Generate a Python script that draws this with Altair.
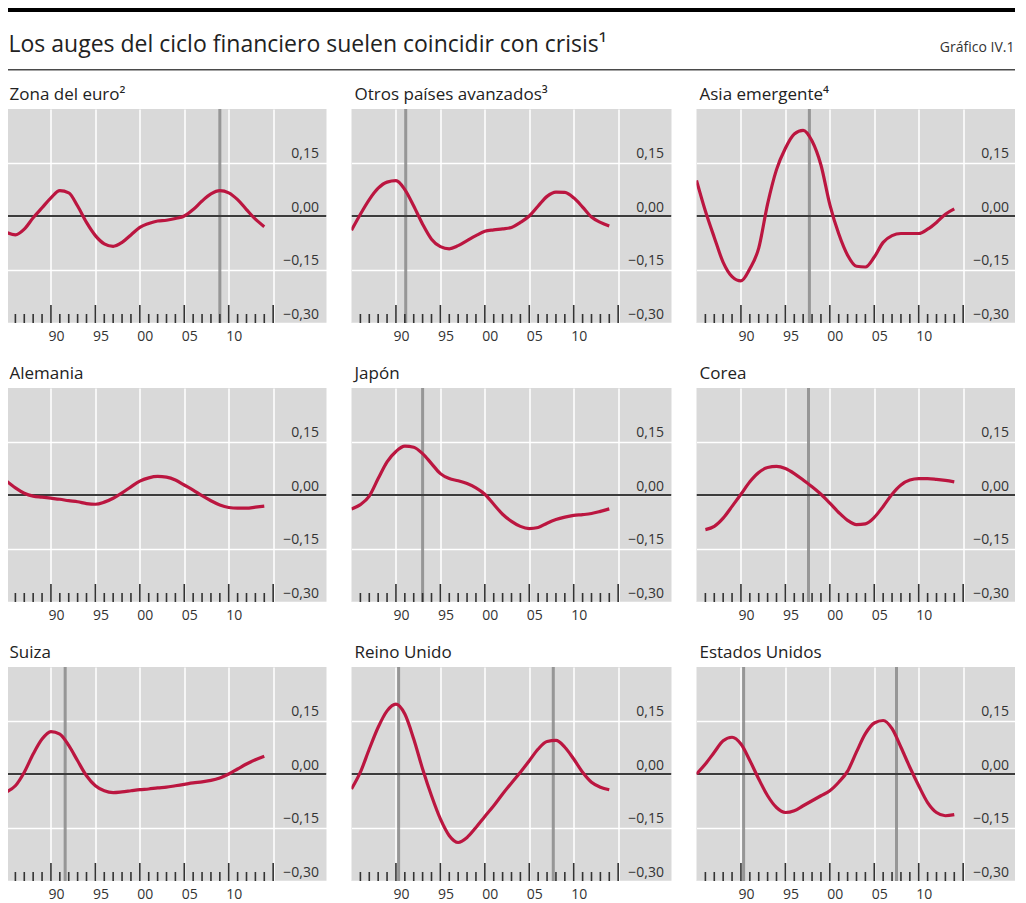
import altair as alt
import pandas as pd

FONT = "Open Sans"

TITLE_TEXT = "Los auges del ciclo financiero suelen coincidir con crisis¹"
CHART_NUMBER = "Gráfico IV.1"

YEARS = list(range(1985, 2015))
YEARS_KOREA = list(range(1986, 2015))

euro = [-0.046, -0.053, -0.037, -0.005, 0.023, 0.051, 0.071, 0.065, 0.028, -0.018,
        -0.055, -0.078, -0.085, -0.074, -0.053, -0.032, -0.021, -0.014, -0.012, -0.007,
        0.000, 0.018, 0.042, 0.062, 0.071, 0.065, 0.046, 0.018, -0.009, -0.030]
otros = [-0.040, 0.005, 0.046, 0.078, 0.095, 0.099, 0.074, 0.028, -0.023, -0.065,
         -0.086, -0.092, -0.083, -0.069, -0.055, -0.043, -0.039, -0.036, -0.032, -0.018,
         0.000, 0.028, 0.055, 0.067, 0.066, 0.051, 0.025, -0.003, -0.018, -0.028]
asia = [0.100, 0.014, -0.060, -0.130, -0.170, -0.182, -0.148, -0.090, 0.034, 0.130,
        0.190, 0.230, 0.240, 0.210, 0.143, 0.032, -0.050, -0.110, -0.141, -0.143,
        -0.115, -0.074, -0.055, -0.049, -0.049, -0.049, -0.037, -0.018, 0.005, 0.020]
alemania = [0.039, 0.020, 0.005, -0.003, -0.006, -0.009, -0.012, -0.016, -0.019, -0.024,
            -0.026, -0.020, -0.009, 0.006, 0.023, 0.039, 0.048, 0.052, 0.050, 0.042,
            0.028, 0.014, -0.002, -0.016, -0.028, -0.035, -0.037, -0.037, -0.034, -0.031]
japon = [-0.039, -0.027, -0.003, 0.046, 0.093, 0.122, 0.137, 0.134, 0.116, 0.088,
         0.060, 0.046, 0.040, 0.032, 0.020, 0.002, -0.026, -0.054, -0.074, -0.088,
         -0.094, -0.091, -0.079, -0.069, -0.062, -0.057, -0.055, -0.052, -0.046, -0.039]
corea = [-0.097, -0.088, -0.065, -0.032, 0.002, 0.037, 0.063, 0.077, 0.080, 0.074,
         0.060, 0.042, 0.023, 0.002, -0.023, -0.049, -0.071, -0.083, -0.081, -0.063,
         -0.032, 0.002, 0.028, 0.042, 0.046, 0.046, 0.044, 0.041, 0.037]
suiza = [-0.050, -0.033, 0.005, 0.056, 0.098, 0.119, 0.112, 0.080, 0.037, -0.005,
         -0.033, -0.047, -0.052, -0.050, -0.047, -0.044, -0.042, -0.039, -0.037, -0.033,
         -0.029, -0.025, -0.022, -0.018, -0.011, 0.000, 0.014, 0.028, 0.040, 0.050]
reino = [-0.042, 0.005, 0.070, 0.131, 0.177, 0.196, 0.168, 0.098, 0.014, -0.061,
         -0.126, -0.173, -0.192, -0.178, -0.150, -0.119, -0.089, -0.056, -0.025, 0.005,
         0.037, 0.070, 0.091, 0.094, 0.075, 0.042, 0.005, -0.023, -0.037, -0.044]
eeuu = [0.000, 0.028, 0.061, 0.093, 0.103, 0.084, 0.038, -0.014, -0.061, -0.094,
        -0.108, -0.103, -0.089, -0.075, -0.061, -0.047, -0.023, 0.008, 0.062, 0.113,
        0.143, 0.150, 0.127, 0.075, 0.019, -0.033, -0.080, -0.108, -0.117, -0.114]

PANEL_TITLES = ["Zona del euro²", "Otros países avanzados³", "Asia emergente⁴",
                "Alemania", "Japón", "Corea",
                "Suiza", "Reino Unido", "Estados Unidos"]
PANEL_YEARS = [YEARS, YEARS, YEARS, YEARS, YEARS, YEARS_KOREA, YEARS, YEARS, YEARS]
PANEL_VALUES = [euro, otros, asia, alemania, japon, corea, suiza, reino, eeuu]
CRISIS = [[2009.0], [1991.1], [1997.7],
          [], [1993.0], [1997.6],
          [1991.6], [1990.3, 2007.7], [1990.3, 2007.5]]

X_DOMAIN = [1985, 2021]
Y_DOMAIN = [-0.30, 0.30]
X_LABEL_YEARS = [1990, 1995, 2000, 2005, 2010, 2015]
Y_TICKS = [-0.30, -0.15, 0.0, 0.15]
ZERO_LINE = [0.0]
MAJOR_TICK_YEARS = [1990, 1995, 2000, 2005, 2010, 2015]
MINOR_TICK_YEARS = [y for y in range(1986, 2015) if y not in MAJOR_TICK_YEARS]

PW, PH = 320, 214
COL_GAP = 25
TOTAL_W = 3 * PW + 2 * COL_GAP   # 1010: fits the page without shrinking

RED = "#bb1640"
GREY_BG = "#d9d9d9"

xs = alt.Scale(domain=X_DOMAIN, nice=False, zero=False)
ys = alt.Scale(domain=Y_DOMAIN, nice=False, zero=False)

x_axis = alt.Axis(values=X_LABEL_YEARS, title=None, grid=True, gridColor="white",
                  gridWidth=1.5, ticks=False, domain=False, labelPadding=6,
                  labelOffset=5, labelFontSize=14, labelFont=FONT, labelColor="#333",
                  labelFlush=False, labelOverlap=False, labelBaseline="top",
                  labelExpr="datum.value == 2015 ? '' : substring(toString(datum.value), 2, 4)")
y_axis = alt.Axis(values=Y_TICKS, orient="right", title=None, grid=True, gridColor="white",
                  gridWidth=1.5, ticks=False, tickSize=0, domain=False, labelPadding=-8,
                  labelAlign="right", labelBaseline="alphabetic", labelOffset=-5,
                  labelFontSize=14, labelFont=FONT, labelColor="#333",
                  labelFlush=False, labelOverlap=False,
                  labelExpr="replace(format(datum.value, '.2f'), '.', ',')")


def make_panel(title, years, values, crisis):
    line_df = pd.DataFrame({"year": years, "value": values})
    X = alt.X("year:Q", scale=xs, axis=x_axis)
    Y = alt.Y("value:Q", scale=ys, axis=y_axis)
    layers = []
    if crisis:
        layers.append(
            alt.Chart(pd.DataFrame({"year": crisis}))
            .mark_rule(color="#8a8a8a", strokeWidth=3, opacity=0.85, clip=True)
            .encode(x=X)
        )
    layers.append(
        alt.Chart(pd.DataFrame({"value": ZERO_LINE}))
        .mark_rule(color="#3c3c3c", strokeWidth=2, clip=True)
        .encode(y=Y)
    )
    layers.append(
        alt.Chart(pd.DataFrame({"year": MINOR_TICK_YEARS}))
        .mark_rule(color="#333333", strokeWidth=1.6, clip=True)
        .encode(x=X, y=alt.value(PH), y2=alt.value(PH - 9))
    )
    layers.append(
        alt.Chart(pd.DataFrame({"year": MAJOR_TICK_YEARS}))
        .mark_rule(color="#333333", strokeWidth=1.6, clip=True)
        .encode(x=X, y=alt.value(PH), y2=alt.value(PH - 18))
    )
    layers.append(
        alt.Chart(line_df)
        .mark_line(color=RED, strokeWidth=3.2, interpolate="monotone",
                   strokeJoin="round", clip=True)
        .encode(x=X, y=Y)
    )
    return alt.layer(*layers).properties(
        width=PW, height=PH,
        view=alt.ViewBackground(fill=GREY_BG, strokeWidth=0, stroke="transparent"),
        title=alt.TitleParams(title, anchor="start", frame="group", fontSize=17,
                              font=FONT, fontWeight="normal", color="#222",
                              offset=5, dx=3),
    )


panels = [make_panel(t, yr, v, c) for t, yr, v, c in
          zip(PANEL_TITLES, PANEL_YEARS, PANEL_VALUES, CRISIS)]

rows = [alt.hconcat(*panels[i:i + 3], spacing=COL_GAP) for i in (0, 3, 6)]
grid = alt.vconcat(*rows, spacing=22)

hdr_texts = pd.DataFrame({"t": [TITLE_TEXT]})
hdr_num = pd.DataFrame({"t": [CHART_NUMBER]})
hdr_rules = pd.DataFrame({"k": ["rule"]})

header = alt.layer(
    alt.Chart(hdr_rules).mark_rect(color="black")
    .encode(x=alt.value(0), x2=alt.value(TOTAL_W), y=alt.value(0), y2=alt.value(4)),
    alt.Chart(hdr_rules).mark_rect(color="#4a4a4a")
    .encode(x=alt.value(0), x2=alt.value(TOTAL_W), y=alt.value(61), y2=alt.value(62.6)),
    alt.Chart(hdr_texts).mark_text(align="left", baseline="alphabetic", fontSize=23,
                                   font=FONT, color="#222")
    .encode(x=alt.value(2), y=alt.value(44), text="t:N"),
    alt.Chart(hdr_num).mark_text(align="right", baseline="alphabetic", fontSize=14,
                                 font=FONT, color="#333")
    .encode(x=alt.value(TOTAL_W - 2), y=alt.value(44), text="t:N"),
).properties(width=TOTAL_W, height=64,
             view=alt.ViewBackground(strokeWidth=0, stroke="transparent"))

chart = alt.vconcat(header, grid, spacing=14).properties(
    padding={"left": -1.5, "top": 0, "right": -1.5, "bottom": 0},
    autosize=alt.AutoSizeParams(type="pad", contains="padding"),
).configure_view(
    strokeWidth=0, stroke="transparent"
).configure(background="white")

chart.save("out.html", embed_options={"renderer": "svg", "actions": False})
